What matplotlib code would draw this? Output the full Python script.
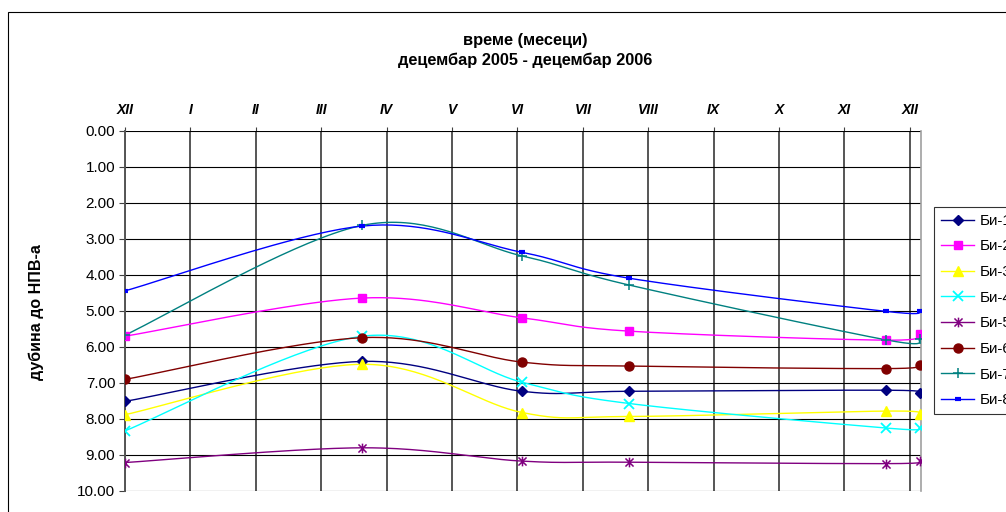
import numpy as np
import matplotlib
matplotlib.use("Agg")
import matplotlib.pyplot as plt
from matplotlib.path import Path
from matplotlib.patches import Rectangle

plt.rcParams['font.family'] = ['Liberation Sans', 'DejaVu Sans']

# Measurement dates expressed in months since the start of December 2005
months_x = [0.0, 3.63, 6.07, 7.71, 11.63, 12.16]

month_labels = ['XII', 'I', 'II', 'III', 'IV', 'V', 'VI', 'VII', 'VIII',
                'IX', 'X', 'XI', 'XII']

series_names = ['Би-1', 'Би-2', 'Би-3', 'Би-4', 'Би-5', 'Би-6', 'Би-7', 'Би-8']

# Depth to groundwater level (m)
bi1 = [7.51, 6.40, 7.23, 7.23, 7.20, 7.27]
bi2 = [5.70, 4.64, 5.19, 5.56, 5.81, 5.63]
bi3 = [7.88, 6.48, 7.82, 7.93, 7.78, 7.86]
bi4 = [8.33, 5.70, 6.98, 7.57, 8.25, 8.25]
bi5 = [9.21, 8.80, 9.17, 9.20, 9.24, 9.18]
bi6 = [6.90, 5.74, 6.42, 6.53, 6.60, 6.49]
bi7 = [5.67, 2.62, 3.47, 4.28, 5.80, 5.79]
bi8 = [4.44, 2.64, 3.37, 4.09, 5.01, 4.99]

depths = [bi1, bi2, bi3, bi4, bi5, bi6, bi7, bi8]

# Excel-style "star": an x with a vertical bar through it
star = Path([(-1, -1), (1, 1), (-1, 1), (1, -1), (0, -1.2), (0, 1.2)],
            [Path.MOVETO, Path.LINETO, Path.MOVETO, Path.LINETO,
             Path.MOVETO, Path.LINETO])

styles = [
    dict(color='#000080', marker='D', ms=5.5),
    dict(color='#FF00FF', marker='s', ms=5.5),
    dict(color='#FFFF00', marker='^', ms=7),
    dict(color='#00FFFF', marker='x', ms=6.5, mew=1.3),
    dict(color='#800080', marker=star, ms=7, mew=1.1, mfc='none'),
    dict(color='#800000', marker='o', ms=6.5),
    dict(color='#008080', marker='+', ms=7.5, mew=1.1),
    dict(color='#0000FF', marker='_', ms=5, mew=3),
]


def smooth(x, y, n=40):
    """Cardinal-spline smoothing through the points (Bezier segments)."""
    p = np.column_stack([x, y]).astype(float)
    pts = np.vstack([p[0], p, p[-1]])
    out = []
    t = np.linspace(0, 1, n)[:, None]
    for i in range(1, len(pts) - 2):
        p0, p1, p2, p3 = pts[i - 1], pts[i], pts[i + 1], pts[i + 2]
        c1 = p1 + (p2 - p0) / 6.0
        c2 = p2 - (p3 - p1) / 6.0
        seg = ((1 - t) ** 3) * p1 + 3 * ((1 - t) ** 2) * t * c1 \
            + 3 * (1 - t) * t ** 2 * c2 + t ** 3 * p2
        out.append(seg if i == 1 else seg[1:])
    out = np.vstack(out)
    return out[:, 0], out[:, 1]


W, H = 1006, 512
fig = plt.figure(figsize=(W / 100, H / 100), dpi=100)

# outer chart frame
fig.patches.append(Rectangle((8 / W, -0.1), 1.2, 1 - 12 / H + 0.1,
                             transform=fig.transFigure, fill=False,
                             edgecolor='black', linewidth=0.8))

ax = fig.add_axes([125 / W, 1 - 491 / H, (921 - 125) / W, (491 - 131) / H])

handles = []
for name, d, st in zip(series_names, depths, styles):
    sx, sy = smooth(months_x, d)
    color = st['color']
    ax.plot(sx, sy, color=color, lw=1.0, zorder=3)
    kw = dict(marker=st['marker'], ms=st['ms'], color=color,
              mec=color, mfc=st.get('mfc', color), mew=st.get('mew', 1.0),
              linestyle='none', zorder=4)
    ax.plot(months_x, d, **kw)
    h, = ax.plot([], [], color=color, lw=1.0, marker=st['marker'],
                 ms=st['ms'], mec=color, mfc=st.get('mfc', color),
                 mew=st.get('mew', 1.0))
    handles.append(h)

ax.set_xlim(0, 12.17)
ax.set_ylim(10, 0)
ax.set_yticks(np.arange(0, 11, 1))
ax.set_yticklabels([f'{v:.2f}' for v in np.arange(0, 11, 1)])
ax.tick_params(axis='y', direction='out', length=4, width=0.8, pad=3,
               labelsize=11, color='#404040')

ax.set_xticks(np.arange(13))
ax.set_xticklabels(month_labels)
ax.xaxis.tick_top()
ax.tick_params(axis='x', direction='out', length=3, width=0.8, pad=7,
               labelsize=10, color='#404040')
for lab in ax.get_xticklabels():
    lab.set_fontweight('bold')
    lab.set_fontstyle('italic')

ax.grid(axis='y', color='black', lw=0.8, zorder=1)
ax.grid(axis='x', color='#555555', lw=1.4, zorder=1)
ax.set_axisbelow(True)
for side in ['top', 'bottom']:
    ax.spines[side].set_visible(False)
ax.spines['left'].set_color('#555555')
ax.spines['left'].set_linewidth(1.4)
ax.spines['right'].set_color('#A0A0A0')
ax.spines['right'].set_linewidth(1.2)

fig.text(525 / W, 1 - 40 / H, 'време (месеци)', ha='center', va='center',
         fontsize=11.8, fontweight='bold')
fig.text(525 / W, 1 - 60 / H, 'децембар 2005 - децембар 2006', ha='center',
         va='center', fontsize=11.8, fontweight='bold')
fig.text(36 / W, 1 - 312 / H, 'дубина до НПВ-а', rotation=90, ha='center',
         va='center', fontsize=11.5, fontweight='bold')

leg = fig.legend(handles, series_names, loc='upper left',
                 bbox_to_anchor=(934 / W, 1 - 207 / H), frameon=True,
                 fancybox=False, edgecolor='black', fontsize=11,
                 handlelength=2.2, handletextpad=0.35, labelspacing=0.76,
                 borderpad=0.45, borderaxespad=0)
leg.get_frame().set_linewidth(0.8)

fig.savefig('out.png', dpi=100)
